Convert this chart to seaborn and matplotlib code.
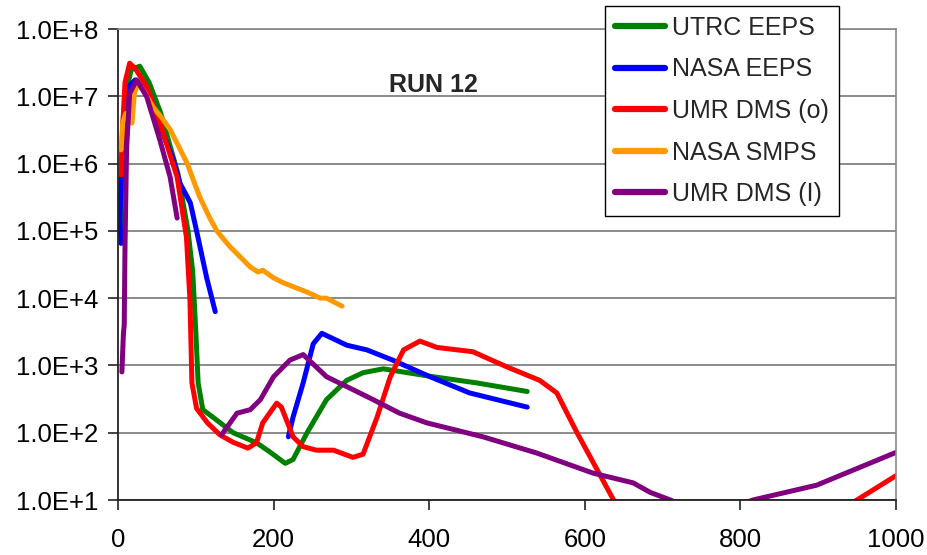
import matplotlib
matplotlib.use("Agg")
import matplotlib.pyplot as plt
import seaborn as sns
import pandas as pd

# ---- data: particle number concentration vs particle size, run 12 ----
utrc_eeps_x = [3, 6, 10, 17, 28, 40, 55, 77, 90, 96, 100, 103, 109, 122, 148, 178, 195, 215, 225,
               243, 268, 294, 315, 341, 401, 461, 526]
utrc_eeps_y = [9.3e4, 2.0e6, 1.1e7, 2.5e7, 2.8e7, 1.6e7, 5.6e6, 7.1e5, 1.0e5, 2.5e4, 3.2e3, 5.5e2,
               2.2e2, 1.7e2, 1.0e2, 7.1e1, 5.2e1, 3.5e1, 4.0e1, 1.0e2, 3.1e2, 6.0e2, 7.8e2, 8.9e2,
               6.9e2, 5.5e2, 4.1e2]

nasa_eeps_x1 = [4, 2.5, 4, 7, 14, 22, 32, 54, 70, 80, 89, 93, 101, 114, 125]
nasa_eeps_y1 = [6.5e4, 1.5e5, 6.0e5, 5.0e6, 1.4e7, 1.75e7, 1.4e7, 3.5e6, 1.25e6, 5.0e5, 3.2e5,
                2.6e5, 1.0e5, 2.0e4, 6.3e3]
nasa_eeps_x2 = [219, 225, 238, 251, 262, 294, 320, 353, 401, 452, 526]
nasa_eeps_y2 = [87, 170, 550, 2.1e3, 3.0e3, 2.0e3, 1.7e3, 1.2e3, 6.8e2, 3.9e2, 2.4e2]

umr_o_x1 = [4, 6, 9, 15, 22, 37, 54, 76, 88, 92.5, 95, 101, 115, 131, 148, 167, 178, 186, 204,
            210, 225, 238, 255, 277, 302, 315, 333, 350, 367, 388, 410, 456, 500, 542, 564, 590,
            616, 637, 645]
umr_o_y1 = [6.8e5, 3.5e6, 1.6e7, 3.1e7, 2.6e7, 1.4e7, 4.0e6, 6.3e5, 8.0e4, 9.3e3, 5.5e2, 2.3e2,
            1.4e2, 9.3e1, 7.2e1, 5.9e1, 7.1e1, 1.4e2, 2.75e2, 2.4e2, 8.7e1, 6.2e1, 5.5e1, 5.5e1,
            4.3e1, 4.8e1, 1.7e2, 6.8e2, 1.7e3, 2.3e3, 1.85e3, 1.6e3, 9.5e2, 6.0e2, 3.9e2, 1.0e2,
            2.8e1, 1.0e1, 7.0]
umr_o_x2 = [940, 1000]
umr_o_y2 = [8.5, 23]

nasa_smps_x = [4, 6, 10, 15, 18, 21, 26, 35, 45, 55, 67, 78, 89, 97, 105, 118, 127, 144, 160,
               170, 180, 186, 200, 212, 243, 260, 268, 288]
nasa_smps_y = [1.6e6, 4.0e6, 5.6e6, 4.5e6, 4.0e6, 1.1e7, 1.6e7, 1.1e7, 6.9e6, 5.0e6, 3.2e6,
               1.8e6, 1.0e6, 5.6e5, 3.2e5, 1.55e5, 1.0e5, 5.8e4, 3.8e4, 2.9e4, 2.45e4, 2.6e4,
               2.0e4, 1.7e4, 1.23e4, 1.0e4, 1.0e4, 7.6e3]

umr_i_x1 = [5, 7, 8, 9, 11, 15, 24, 37, 54, 67, 76]
umr_i_y1 = [8.0e2, 3.0e3, 4.0e3, 5.8e4, 1.6e6, 1.1e7, 1.75e7, 9.8e6, 2.2e6, 6.3e5, 1.55e5]
umr_i_x2 = [133, 153, 170, 183, 200, 221, 238, 268, 298, 328, 362, 397, 469, 538, 611, 662, 684,
            710, 720]
umr_i_y2 = [93, 195, 220, 310, 680, 1.2e3, 1.45e3, 6.8e2, 4.6e2, 3.1e2, 1.95e2, 1.4e2, 8.7e1,
            5.0e1, 2.5e1, 1.8e1, 1.3e1, 1.0e1, 8.9]
umr_i_x3 = [806, 816, 898, 1000]
umr_i_y3 = [9.0, 10, 16.6, 51]

x_ticks = [0, 200, 400, 600, 800, 1000]
y_ticks = [1e1, 1e2, 1e3, 1e4, 1e5, 1e6, 1e7, 1e8]
y_tick_labels = ["1.0E+1", "1.0E+2", "1.0E+3", "1.0E+4", "1.0E+5", "1.0E+6", "1.0E+7", "1.0E+8"]

series = [
    ("UTRC EEPS", "#008000", [(utrc_eeps_x, utrc_eeps_y)]),
    ("NASA EEPS", "#0000FF", [(nasa_eeps_x1, nasa_eeps_y1), (nasa_eeps_x2, nasa_eeps_y2)]),
    ("UMR DMS (o)", "#FF0000", [(umr_o_x1, umr_o_y1), (umr_o_x2, umr_o_y2)]),
    ("NASA SMPS", "#FF9900", [(nasa_smps_x, nasa_smps_y)]),
    ("UMR DMS (I)", "#800080", [(umr_i_x1, umr_i_y1), (umr_i_x2, umr_i_y2), (umr_i_x3, umr_i_y3)]),
]

sns.set_style("white")
plt.rcParams["font.family"] = ["Liberation Sans", "DejaVu Sans"]

fig = plt.figure(figsize=(9.28, 5.55), dpi=100)
ax = fig.add_axes([118 / 928, 1 - 500 / 555, 778 / 928, 471 / 555])

for name, color, segments in series:
    for i, (sx, sy) in enumerate(segments):
        df = pd.DataFrame({"size": sx, "conc": sy})
        sns.lineplot(data=df, x="size", y="conc", ax=ax, sort=False, estimator=None,
                     color=color, linewidth=3.6, solid_capstyle="round",
                     solid_joinstyle="round",
                     label=name if i == 0 else None, legend=False)

ax.set_yscale("log")
ax.set_xlim(0, 1000)
ax.set_ylim(1e1, 1e8)
ax.set_xticks(x_ticks)
ax.set_xticklabels([str(v) for v in x_ticks])
ax.set_yticks(y_ticks)
ax.set_yticklabels(y_tick_labels)
ax.minorticks_off()
ax.set_xlabel("")
ax.set_ylabel("")

ax.grid(axis="y", color="#777777", linewidth=1.2)
ax.grid(axis="x", visible=False)
ax.set_axisbelow(True)

for side in ["left", "bottom"]:
    ax.spines[side].set_color("#222222")
    ax.spines[side].set_linewidth(1.3)
for side in ["top", "right"]:
    ax.spines[side].set_color("#888888")
    ax.spines[side].set_linewidth(1.2)

ax.tick_params(axis="both", which="major", direction="out", length=7, width=1.2,
               color="#222222", labelsize=18.5, labelcolor="black")
ax.tick_params(axis="x", bottom=True, pad=13)
ax.tick_params(axis="y", left=True, pad=7)

ax.text(0.406, 0.881, "RUN 12", transform=ax.transAxes, fontsize=18, fontweight="bold",
        ha="center", va="center")

handles, labels = ax.get_legend_handles_labels()
leg = ax.legend(handles, labels, loc="upper left", bbox_to_anchor=(605 / 928, 1 - 6 / 555),
                bbox_transform=fig.transFigure, borderaxespad=0, fontsize=18,
                frameon=True, fancybox=False, framealpha=1, edgecolor="black",
                handlelength=2.0, handletextpad=0.3, labelspacing=0.7, borderpad=0.4)
leg.get_frame().set_linewidth(1.0)
for line in leg.get_lines():
    line.set_linewidth(4.5)

fig.savefig("out.png", dpi=100)
